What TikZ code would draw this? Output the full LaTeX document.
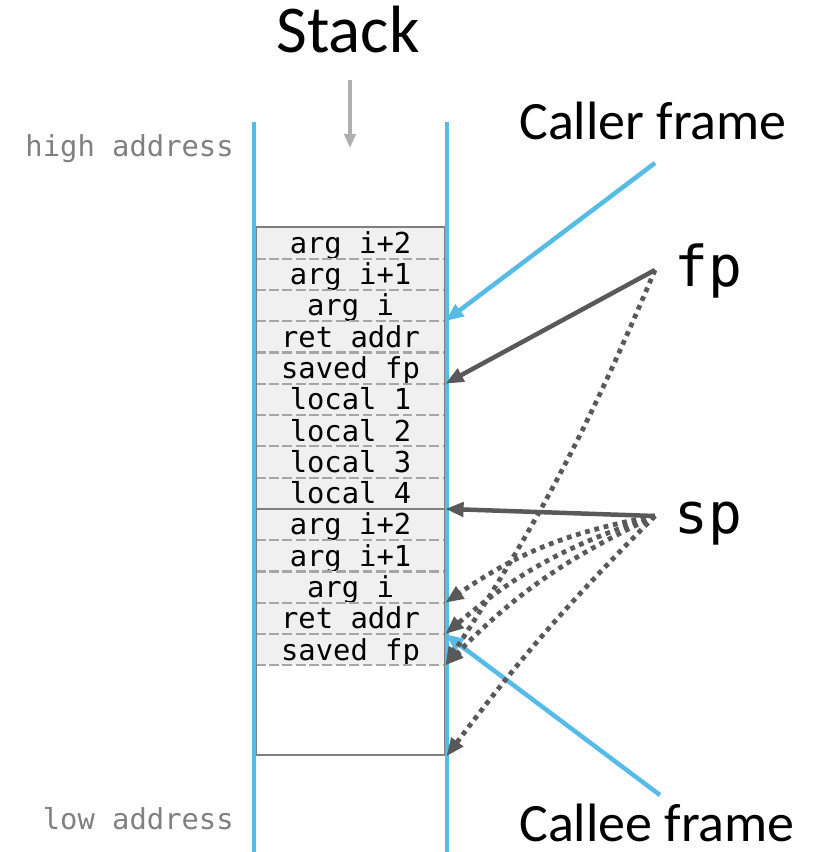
\documentclass[tikz,border=0pt]{standalone}
\usepackage{fontspec}
\setmonofont{DejaVu Sans Mono}
\newfontfamily\labelfont{Carlito}
\usepackage{tikz}
\usetikzlibrary{positioning, arrows.meta}
\definecolor{sBlue}{HTML}{56BBE6}
\definecolor{sInk}{HTML}{595959}
\definecolor{sLine}{HTML}{7F7F7F}
\definecolor{sDash}{HTML}{A6A6A6}
\definecolor{sFill}{HTML}{F0F0F0}
\definecolor{sPush}{HTML}{AFAFAF}
\definecolor{sNote}{HTML}{808080}

\begin{document}
\begin{tikzpicture}[x=0.025cm, y=-0.025cm, >={Triangle[length=13pt, width=10pt]},
  cell/.style={fill=sFill, inner sep=0pt, minimum width=4.725cm, minimum height=0.7823cm,
    text height=15.2pt, text depth=0pt, font=\ttfamily\fontsize{20.5}{24}\selectfont},
  sepline/.style={draw=sDash, line width=1.5pt, dash pattern=on 7pt off 2.5pt},
  stackbox/.style={draw=sLine, line width=1.9pt, inner sep=0pt, minimum width=4.725cm, minimum height=13.2cm},
  wall/.style={draw=sBlue, line width=3.2pt},
  frameptr/.style={->, draw=sBlue, line width=3.2pt},
  regptr/.style={->, draw=sInk, line width=3.2pt},
  oldptr/.style={regptr, line width=3.4pt, dash pattern=on 3.4pt off 3.4pt},
  note/.style={text=sNote, inner sep=0pt, anchor=base east, font=\ttfamily\fontsize{20.5}{24}\selectfont},
  head/.style={inner sep=0pt, anchor=base west, font=\labelfont\fontsize{38.4}{40}\selectfont},
  reg/.style={inner sep=0pt, anchor=base west, font=\ttfamily\fontsize{40}{44}\selectfont}]
  \useasboundingbox (0,0) rectangle (818,852);

  % title and push direction
  \node[inner sep=0pt, anchor=base, font=\labelfont\fontsize{47.6}{50}\selectfont] (title) at (348,53) {Stack};
  \coordinate (pushtop) at (350,80);
  \coordinate (pushend) at (350,148);
  \draw[->, draw=sPush, line width=2.6pt, >={Triangle[length=10pt, width=8pt]}] (pushtop) -- (pushend);

  \node[note] (high) at (234,157) {high address};
  \node[note] (low) at (234,829) {low address};

  % frames
  \foreach \lbl [count=\i] in {arg i+2, arg i+1, arg i, ret addr, saved fp, local 1, local 2, local 3, local 4,
      arg i+2, arg i+1, arg i, ret addr, saved fp}
    \node[cell] (c\i) at (350.5, {227+(\i-0.5)*31.29}) {\lbl};
  \foreach \i in {1,...,8,10,11,12,13,14}
    \draw[sepline] (c\i.south west) -- (c\i.south east);
  \draw[draw=sLine, line width=1.9pt] (c9.south west) -- (c9.south east);
  \node[stackbox] (stack) at (350.5,491) {};

  \draw[wall] (254,122) -- (254,852);
  \draw[wall] (447,122) -- (447,852);

  % labels on the right
  \node[head] (caller) at (519,140) {Caller frame};
  \node[head] (callee) at (519,841) {Callee frame};
  \node[reg] (fp) at (674,287) {fp};
  \node[reg] (sp) at (674,533) {sp};

  \coordinate (callerend) at (655,163);
  \coordinate (calleeend) at (660,795);
  \coordinate (fpsrc) at (655,270);
  \coordinate (spsrc) at (655,516);

  \draw[frameptr] (callerend) -- (c3.south east);
  \draw[frameptr] (calleeend) -- (c13.south east);
  \draw[regptr] (fpsrc) -- (c5.south east);
  \draw[regptr] (spsrc) -- (c9.south east);
  \draw[oldptr] (fpsrc) to[bend left=5] (c14.south east);
  \draw[oldptr] (spsrc) to[bend right=12] (c12.south east);
  \draw[oldptr] (spsrc) to[bend right=11] (c13.south east);
  \draw[oldptr] (spsrc) to[bend right=10] (c14.south east);
  \draw[oldptr] (spsrc) to[bend right=4] (stack.south east);
\end{tikzpicture}
\end{document}
